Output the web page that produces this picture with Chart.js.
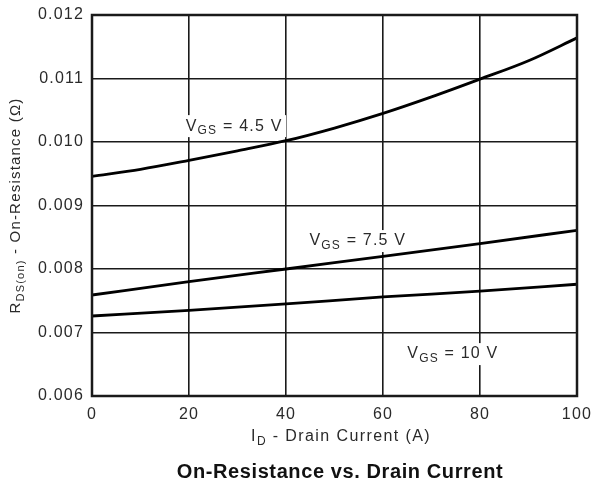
<!DOCTYPE html>
<html>
<head>
<meta charset="utf-8">
<script src="https://cdn.jsdelivr.net/npm/chart.js@4.4.1/dist/chart.umd.min.js"></script>
<style>
  html, body { margin: 0; padding: 0; background: #fff; }
  #wrap { width: 591px; height: 490px; }
</style>
</head>
<body>
<div id="wrap"><canvas id="chart" width="591" height="490"></canvas></div>
<script>
const currents = [0, 10, 20, 30, 40, 50, 60, 70, 80, 90, 100];
const vgs45 = [0.00946, 0.00957, 0.00971, 0.00986, 0.01002, 0.01022, 0.01045, 0.01071, 0.01099, 0.01128, 0.01164];
const currents2 = [0, 20, 40, 60, 80, 100];
const vgs75 = [0.00759, 0.00780, 0.00800, 0.00820, 0.00840, 0.00861];
const vgs10 = [0.00726, 0.00735, 0.00745, 0.00756, 0.00765, 0.00776];
const xTicks = [0, 20, 40, 60, 80, 100];
const yTicks = [0.006, 0.007, 0.008, 0.009, 0.010, 0.011, 0.012];

// curve labels: [x, y, main, sub, rest]
const curveLabels = [
  [29.3, 0.01025, 'V', 'GS', ' = 4.5 V'],
  [54.8, 0.00844, 'V', 'GS', ' = 7.5 V'],
  [74.4, 0.00666, 'V', 'GS', ' = 10 V']
];

const FONT = '"Liberation Sans", Arial, sans-serif';
const ink = '#1a1a1a';

function toPoints(xs, ys) {
  return xs.map((x, i) => ({ x, y: ys[i] }));
}

// draws text with a subscript part, centred on x
function drawRich(ctx, parts, x, y, size) {
  const big = `${size}px ${FONT}`;
  const small = `${Math.round(size * 0.72)}px ${FONT}`;
  let total = 0;
  parts.forEach((p) => {
    ctx.font = p.sub ? small : big;
    total += ctx.measureText(p.t).width;
  });
  let cx = x - total / 2;
  ctx.textAlign = 'left';
  ctx.textBaseline = 'middle';
  parts.forEach((p) => {
    ctx.font = p.sub ? small : big;
    ctx.fillText(p.t, cx, p.sub ? y + size * 0.3 : y);
    cx += ctx.measureText(p.t).width;
  });
  return total;
}

const annotations = {
  id: 'annotations',
  beforeDraw(chart) {
    chart.ctx.letterSpacing = '1.2px';
  },
  beforeDatasetsDraw(chart) {
    const { ctx, scales } = chart;
    ctx.save();
    curveLabels.forEach(([lx, ly, m, s, r]) => {
      const px = scales.x.getPixelForValue(lx);
      const py = scales.y.getPixelForValue(ly);
      ctx.fillStyle = '#fff';
      ctx.fillRect(px - 52, py - 11, 104, 22);
      ctx.fillStyle = '#2a2a2a';
      drawRich(ctx, [{ t: m }, { t: s, sub: true }, { t: r }], px, py, 16);
    });
    ctx.restore();
  },
  afterDraw(chart) {
    const { ctx, chartArea } = chart;
    ctx.save();
    ctx.strokeStyle = ink;
    ctx.lineWidth = 2.5;
    ctx.strokeRect(chartArea.left, chartArea.top, chartArea.right - chartArea.left, chartArea.bottom - chartArea.top);

    ctx.fillStyle = '#2a2a2a';
    const midX = (chartArea.left + chartArea.right) / 2;
    ctx.letterSpacing = '1.4px';
    drawRich(ctx, [{ t: 'I' }, { t: 'D', sub: true }, { t: ' - Drain Current (A)' }], 341, 437, 16);

    ctx.letterSpacing = '1.2px';
    ctx.save();
    ctx.translate(16, (chartArea.top + chartArea.bottom) / 2);
    ctx.rotate(-Math.PI / 2);
    drawRich(ctx, [{ t: 'R' }, { t: 'DS(on)', sub: true }, { t: ' - On-Resistance (Ω)' }], 0, 0, 15);
    ctx.restore();

    ctx.fillStyle = '#111';
    ctx.letterSpacing = '0.6px';
    ctx.font = `bold 20px ${FONT}`;
    ctx.textAlign = 'center';
    ctx.textBaseline = 'middle';
    ctx.fillText('On-Resistance vs. Drain Current', 340, 472);
    ctx.restore();
  }
};

const lineStyle = {
  borderColor: '#000',
  borderWidth: 2.8,
  pointRadius: 0,
  fill: false,
  cubicInterpolationMode: 'monotone'
};

new Chart(document.getElementById('chart'), {
  type: 'line',
  data: {
    datasets: [
      { label: 'VGS = 4.5 V', data: toPoints(currents, vgs45), ...lineStyle },
      { label: 'VGS = 7.5 V', data: toPoints(currents2, vgs75), ...lineStyle },
      { label: 'VGS = 10 V', data: toPoints(currents2, vgs10), ...lineStyle }
    ]
  },
  options: {
    responsive: false,
    animation: false,
    layout: { padding: { left: 0, right: 14, top: 15, bottom: 0 } },
    plugins: { legend: { display: false }, tooltip: { enabled: false } },
    scales: {
      x: {
        type: 'linear',
        min: 0,
        max: 100,
        afterBuildTicks: (axis) => { axis.ticks = xTicks.map((v) => ({ value: v })); },
        afterFit: (axis) => { axis.height = 94; axis.paddingLeft = 0; axis.paddingRight = 0; },
        grid: { color: ink, lineWidth: 1.6, drawTicks: false },
        border: { display: false },
        ticks: { color: '#2a2a2a', padding: 9, font: { family: FONT, size: 16 } }
      },
      y: {
        min: 0.006,
        max: 0.012,
        afterBuildTicks: (axis) => { axis.ticks = yTicks.map((v) => ({ value: v })); },
        afterFit: (axis) => { axis.width = 92; axis.paddingTop = 0; axis.paddingBottom = 0; },
        grid: { color: ink, lineWidth: 1.6, drawTicks: false },
        border: { display: false },
        ticks: {
          color: '#2a2a2a',
          padding: 8,
          font: { family: FONT, size: 16 },
          callback: (v) => v.toFixed(3)
        }
      }
    }
  },
  plugins: [annotations]
});
</script>
</body>
</html>
